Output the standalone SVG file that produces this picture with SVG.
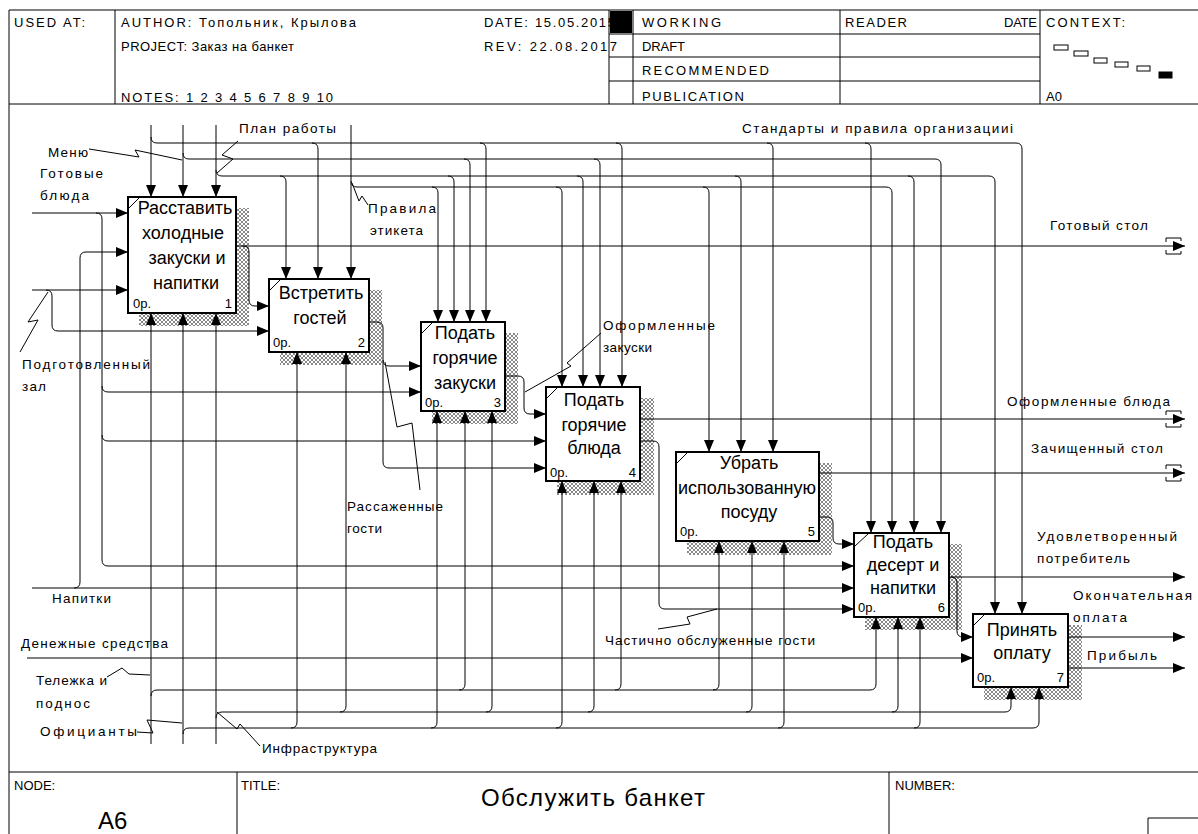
<svg xmlns="http://www.w3.org/2000/svg" width="1198" height="834" viewBox="0 0 1198 834">
<defs>
<style>
.ln{stroke:#000;stroke-width:1;fill:none}
.ar{stroke:#000;stroke-width:1;fill:none;marker-end:url(#ah)}
.box{fill:#fff;stroke:#000;stroke-width:2}
.sh{fill:url(#hatch)}
.bt{font-family:"Liberation Sans",Arial,sans-serif;font-size:18px;text-anchor:middle;fill:#000}
.nm{font-family:"Liberation Sans",Arial,sans-serif;font-size:13px;fill:#000}
.lb{font-family:"Liberation Sans",Arial,sans-serif;font-size:13.5px;fill:#000}
.hd{font-family:"Liberation Sans",Arial,sans-serif;font-size:13px;fill:#000}
</style>
<marker id="ah" viewBox="0 0 12 10" refX="12" refY="5" markerWidth="12" markerHeight="10" markerUnits="userSpaceOnUse" orient="auto">
<path d="M0,0 L12,5 L0,10 Z" fill="#000"/>
</marker>
<pattern id="hatch" width="4" height="4" patternUnits="userSpaceOnUse">
<rect width="4" height="4" fill="#fff"/>
<rect x="0" y="0" width="1" height="1" fill="#888"/>
<rect x="1" y="1" width="1" height="1" fill="#888"/>
<rect x="2" y="2" width="1" height="1" fill="#888"/>
<rect x="3" y="3" width="1" height="1" fill="#888"/>
<rect x="3" y="0" width="1" height="1" fill="#888"/>
<rect x="2" y="1" width="1" height="1" fill="#888"/>
<rect x="1" y="2" width="1" height="1" fill="#888"/>
<rect x="0" y="3" width="1" height="1" fill="#888"/>
</pattern>
</defs>
<rect width="1198" height="834" fill="#fff"/>

<g id="frame">
<path class="ln" d="M9,10 H1198 M9,10 V834 M9,104 H1198 M9,772 H1198"/>
<path class="ln" d="M115,10 V104 M609,10 V104 M633,10 V104 M840,10 V104 M1040,10 V104 M609,34 H1040 M609,57 H1040 M609,81 H1040"/>
<text class="hd" x="14" y="27" textLength="71">USED AT:</text>
<text class="hd" x="121" y="27" textLength="235">AUTHOR: Топольник, Крылова</text>
<text class="hd" x="121" y="51" textLength="173">PROJECT: Заказ на банкет</text>
<text class="hd" x="121" y="102" textLength="212">NOTES: 1 2 3 4 5 6 7 8 9 10</text>
<text class="hd" x="484" y="27" textLength="131">DATE: 15.05.2015</text>
<text class="hd" x="484" y="51" textLength="133">REV: 22.08.2017</text>
<rect x="610" y="11" width="22" height="22" fill="#000"/>
<text class="hd" x="642" y="27" textLength="79">WORKING</text>
<text class="hd" x="642" y="51" textLength="43">DRAFT</text>
<text class="hd" x="642" y="75" textLength="127">RECOMMENDED</text>
<text class="hd" x="642" y="101" textLength="102">PUBLICATION</text>
<text class="hd" x="845" y="27" textLength="62">READER</text>
<text class="hd" x="1004" y="27" textLength="33">DATE</text>
<text class="hd" x="1046" y="27" textLength="79">CONTEXT:</text>
<text class="hd" x="1046" y="101">A0</text>
<g fill="#fff" stroke="#000" stroke-width="1">
<rect x="1054" y="45" width="14" height="5"/>
<rect x="1074" y="51" width="14" height="5"/>
<rect x="1094" y="58" width="13" height="5"/>
<rect x="1115" y="62" width="13" height="5"/>
<rect x="1137" y="66" width="13" height="5"/>
<rect x="1159" y="72" width="13" height="6" fill="#000"/>
</g>
<path class="ln" d="M237,772 V834 M889,772 V834 M1148,818 H1198 M1148,818 V834"/>
<text class="hd" x="14" y="790">NODE:</text>
<text class="hd" x="241" y="790">TITLE:</text>
<text class="hd" x="895" y="790">NUMBER:</text>
<text x="481" y="806" font-family="'Liberation Sans',Arial,sans-serif" font-size="24" textLength="224">Обслужить банкет</text>
<text x="98" y="829" font-family="'Liberation Sans',Arial,sans-serif" font-size="24">A6</text>
</g>

<g id="shadows">
<path class="sh" d="M236,208 H249 V326 H139 V313 H236 Z"/>
<path class="sh" d="M369,290 H382 V365 H280 V352 H369 Z"/>
<path class="sh" d="M505,333 H518 V424 H432 V411 H505 Z"/>
<path class="sh" d="M640,398 H654 V495 H557 V481 H640 Z"/>
<path class="sh" d="M819,463 H832 V555 H687 V541 H819 Z"/>
<path class="sh" d="M949,544 H962 V630 H865 V617 H949 Z"/>
<path class="sh" d="M1068,625 H1082 V700 H984 V687 H1068 Z"/>
</g>

<g id="connectors">
<path class="ar" d="M151,125 V197"/>
<path class="ar" d="M151,137 Q151,143 157,143 H1016 Q1022,143 1022,149 V614"/>
<path class="ar" d="M312,143 Q318,143 318,149 V279"/>
<path class="ar" d="M480,143 Q486,143 486,149 V322"/>
<path class="ar" d="M616,143 Q622,143 622,149 V387"/>
<path class="ar" d="M767,143 Q773,143 773,149 V452"/>
<path class="ar" d="M865,143 Q871,143 871,149 V533"/>
<path class="ar" d="M183,125 V197"/>
<path class="ar" d="M183,153 Q183,159 189,159 H935 Q941,159 941,165 V533"/>
<path class="ar" d="M464,159 Q470,159 470,165 V322"/>
<path class="ar" d="M594,159 Q600,159 600,165 V387"/>
<path class="ar" d="M216,125 V197"/>
<path class="ar" d="M216,170 Q216,176 222,176 H989 Q995,176 995,182 V614"/>
<path class="ar" d="M280,176 Q286,176 286,182 V279"/>
<path class="ar" d="M448,176 Q454,176 454,182 V322"/>
<path class="ar" d="M577,176 Q583,176 583,182 V387"/>
<path class="ar" d="M735,176 Q741,176 741,182 V452"/>
<path class="ar" d="M908,176 Q914,176 914,182 V533"/>
<path class="ar" d="M351,125 V279"/>
<path class="ar" d="M351,181 Q351,187 357,187 H886 Q892,187 892,193 V533"/>
<path class="ar" d="M432,187 Q438,187 438,193 V322"/>
<path class="ar" d="M556,187 Q562,187 562,193 V387"/>
<path class="ar" d="M703,187 Q709,187 709,193 V452"/>
<path class="ar" d="M32,213 H128"/>
<path class="ar" d="M96,213 Q102,213 102,219 V560 Q102,566 108,566 H854"/>
<path class="ar" d="M102,386 Q102,392 108,392 H421"/>
<path class="ar" d="M102,435 Q102,441 108,441 H546"/>
<path class="ar" d="M32,588 H854"/>
<path class="ar" d="M74,588 Q80,588 80,582 V258 Q80,252 86,252 H128"/>
<path class="ar" d="M32,290 H128"/>
<path class="ar" d="M46,290 Q52,290 52,296 V325 Q52,331 58,331 H269"/>
<path class="ar" d="M27,658 H973"/>
<path class="ar" d="M237,246 H1185"/>
<path class="ar" d="M243,246 Q249,246 249,252 V300 Q249,306 255,306 H269"/>
<path class="ar" d="M369,322 H377 Q383,322 383,328 V462 Q383,468 389,468 H546"/>
<path class="ar" d="M383,360 Q383,366 389,366 H421"/>
<path class="ar" d="M505,376 H518 Q524,376 524,382 V408 Q524,414 530,414 H546"/>
<path class="ar" d="M640,419 H1185"/>
<path class="ar" d="M640,441 H653 Q659,441 659,447 V603 Q659,609 665,609 H854"/>
<path class="ar" d="M819,473 H1185"/>
<path class="ar" d="M819,517 H827 Q833,517 833,523 V538 Q833,544 839,544 H854"/>
<path class="ar" d="M949,577 H1185"/>
<path class="ar" d="M951,577 Q957,577 957,583 V631 Q957,637 963,637 H973"/>
<path class="ar" d="M1068,637 H1185"/>
<path class="ar" d="M1068,668 H1185"/>
<path class="ln" d="M1166,242 V238 H1181 V241 M1166,250 V254 H1181 V251"/>
<path class="ln" d="M1166,415 V411 H1181 V414 M1166,423 V427 H1181 V424"/>
<path class="ln" d="M1166,469 V465 H1181 V468 M1166,477 V481 H1181 V478"/>
<path class="ar" d="M151,744 V313"/>
<path class="ar" d="M151,696 Q151,690 157,690 H870 Q876,690 876,684 V617"/>
<path class="ar" d="M459,690 Q465,690 465,684 V411"/>
<path class="ar" d="M615,690 Q621,690 621,684 V481"/>
<path class="ar" d="M713,690 Q719,690 719,684 V541"/>
<path class="ar" d="M183,744 V313"/>
<path class="ar" d="M183,734 Q183,728 189,728 H1033 Q1039,728 1039,722 V687"/>
<path class="ar" d="M291,728 Q297,728 297,722 V352"/>
<path class="ar" d="M431,728 Q437,728 437,722 V411"/>
<path class="ar" d="M556,728 Q562,728 562,722 V481"/>
<path class="ar" d="M778,728 Q784,728 784,722 V541"/>
<path class="ar" d="M914,728 Q920,728 920,722 V617"/>
<path class="ar" d="M216,744 V313"/>
<path class="ar" d="M216,718 Q216,712 222,712 H1005 Q1011,712 1011,706 V687"/>
<path class="ar" d="M340,712 Q346,712 346,706 V352"/>
<path class="ar" d="M486,712 Q492,712 492,706 V411"/>
<path class="ar" d="M588,712 Q594,712 594,706 V481"/>
<path class="ar" d="M746,712 Q752,712 752,706 V541"/>
<path class="ar" d="M892,712 Q898,712 898,706 V617"/>
<path class="ln" d="M238,141 L222,155 L233,159 L217,173"/>
<path class="ln" d="M89,149 L139,157 L135,150 L182,160"/>
<path class="ln" d="M352,183 L359,201 L362,196 L368,205"/>
<path class="ln" d="M20,352 L38,320 L28,322 L48,292"/>
<path class="ln" d="M601,333 L567,363 L571,366 L525,392"/>
<path class="ln" d="M385,362 L397,427 L412,423 L420,490"/>
<path class="ln" d="M658,629 L690,624 L687,617 L717,609"/>
<path class="ln" d="M107,677 L122,668 L129,674 L150,675"/>
<path class="ln" d="M137,732 L153,733 L147,720 L182,723"/>
<path class="ln" d="M217,712 L237,729 L240,724 L260,746"/>
</g>

<g id="labels">
<text class="lb" x="239" y="133" textLength="97">План работы</text>
<text class="lb" x="742" y="133" textLength="271">Стандарты и правила организацииi</text>
<text class="lb" x="48" y="157" textLength="40">Меню</text>
<text class="lb" x="40" y="178" textLength="63">Готовые</text>
<text class="lb" x="40" y="200" textLength="49">блюда</text>
<text class="lb" x="368" y="213" textLength="68">Правила</text>
<text class="lb" x="370" y="235" textLength="53">этикета</text>
<text class="lb" x="1050" y="230" textLength="98">Готовый стол</text>
<text class="lb" x="22" y="369" textLength="128">Подготовленный</text>
<text class="lb" x="22" y="391" textLength="24">зал</text>
<text class="lb" x="603" y="330" textLength="112">Оформленные</text>
<text class="lb" x="603" y="352" textLength="49">закуски</text>
<text class="lb" x="1007" y="406" textLength="163">Оформленные блюда</text>
<text class="lb" x="1031" y="453" textLength="132">Зачищенный стол</text>
<text class="lb" x="347" y="511" textLength="96">Рассаженные</text>
<text class="lb" x="347" y="533" textLength="35">гости</text>
<text class="lb" x="605" y="645" textLength="210">Частично обслуженные гости</text>
<text class="lb" x="1037" y="541" textLength="140">Удовлетворенный</text>
<text class="lb" x="1037" y="563" textLength="93">потребитель</text>
<text class="lb" x="1073" y="600" textLength="119">Окончательная</text>
<text class="lb" x="1073" y="622" textLength="54">оплата</text>
<text class="lb" x="1087" y="660" textLength="70">Прибыль</text>
<text class="lb" x="52" y="603" textLength="59">Напитки</text>
<text class="lb" x="21" y="648" textLength="147">Денежные средства</text>
<text class="lb" x="36" y="685" textLength="71">Тележка и</text>
<text class="lb" x="36" y="708" textLength="54">поднос</text>
<text class="lb" x="40" y="736" textLength="97">Официанты</text>
<text class="lb" x="262" y="753" textLength="115">Инфраструктура</text>
</g>

<g id="box1">
<rect class="box" x="128" y="197" width="108" height="116"/>
<path class="ln" d="M129,208 L139,198" stroke-width="2"/>
<text class="bt" x="185" y="214">Расставить</text>
<text class="bt" x="183" y="239">холодные</text>
<text class="bt" x="187" y="264">закуски и</text>
<text class="bt" x="186" y="289">напитки</text>
<text class="nm" x="133" y="308">0р.</text>
<text class="nm" x="232" y="308" text-anchor="end">1</text>
</g>
<g id="box2">
<rect class="box" x="269" y="279" width="100" height="73"/>
<path class="ln" d="M270,290 L280,280" stroke-width="2"/>
<text class="bt" x="321" y="299">Встретить</text>
<text class="bt" x="320" y="324">гостей</text>
<text class="nm" x="273" y="347">0р.</text>
<text class="nm" x="365" y="347" text-anchor="end">2</text>
</g>
<g id="box3">
<rect class="box" x="421" y="322" width="84" height="89"/>
<path class="ln" d="M422,333 L432,323" stroke-width="2"/>
<text class="bt" x="465" y="339">Подать</text>
<text class="bt" x="465" y="364">горячие</text>
<text class="bt" x="465" y="389">закуски</text>
<text class="nm" x="425" y="407">0р.</text>
<text class="nm" x="501" y="407" text-anchor="end">3</text>
</g>
<g id="box4">
<rect class="box" x="546" y="387" width="94" height="94"/>
<path class="ln" d="M547,398 L557,388" stroke-width="2"/>
<text class="bt" x="594" y="406">Подать</text>
<text class="bt" x="594" y="431">горячие</text>
<text class="bt" x="594" y="454">блюда</text>
<text class="nm" x="550" y="477">0р.</text>
<text class="nm" x="636" y="477" text-anchor="end">4</text>
</g>
<g id="box5">
<rect class="box" x="676" y="452" width="143" height="89"/>
<path class="ln" d="M677,463 L687,453" stroke-width="2"/>
<text class="bt" x="749" y="469">Убрать</text>
<text class="bt" x="747" y="494">использованную</text>
<text class="bt" x="749" y="518">посуду</text>
<text class="nm" x="680" y="536">0р.</text>
<text class="nm" x="815" y="536" text-anchor="end">5</text>
</g>
<g id="box6">
<rect class="box" x="854" y="533" width="95" height="84"/>
<path class="ln" d="M855,546 L868,534" stroke-width="2"/>
<text class="bt" x="903" y="548">Подать</text>
<text class="bt" x="903" y="571">десерт и</text>
<text class="bt" x="903" y="594">напитки</text>
<text class="nm" x="858" y="612">0р.</text>
<text class="nm" x="945" y="612" text-anchor="end">6</text>
</g>
<g id="box7">
<rect class="box" x="973" y="614" width="95" height="73"/>
<path class="ln" d="M974,625 L984,615" stroke-width="2"/>
<text class="bt" x="1022" y="636">Принять</text>
<text class="bt" x="1022" y="659">оплату</text>
<text class="nm" x="977" y="682">0р.</text>
<text class="nm" x="1064" y="682" text-anchor="end">7</text>
</g>
</svg>
